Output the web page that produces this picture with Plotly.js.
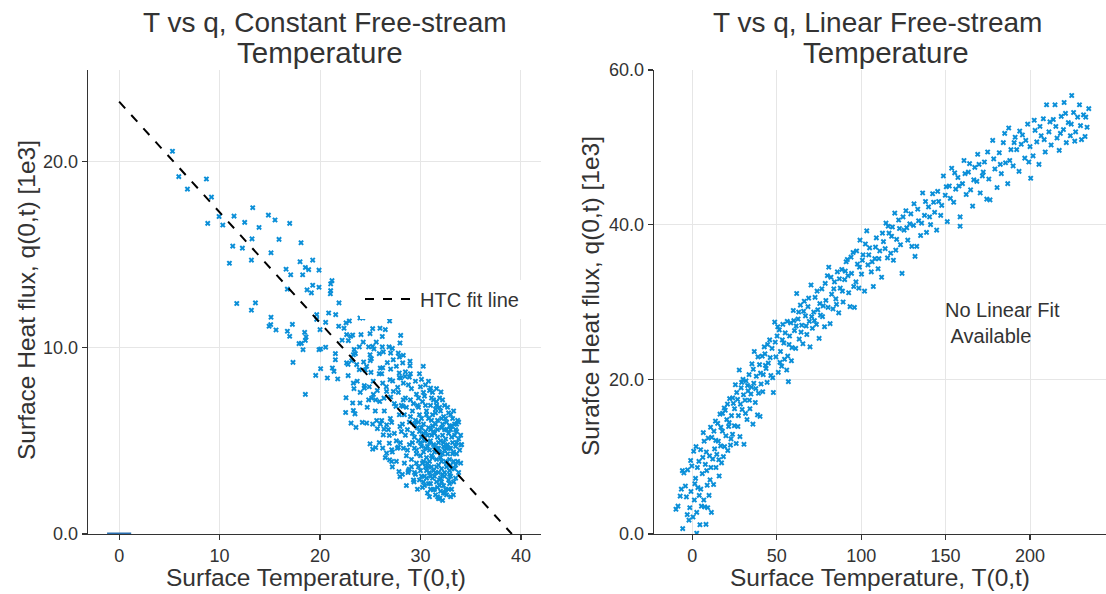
<!DOCTYPE html>
<html>
<head>
<meta charset="utf-8">
<script src="https://cdn.plot.ly/plotly-3.0.1.min.js"></script>
<style>html,body{margin:0;padding:0;background:#fff;}#chart{width:1106px;height:594px;}</style>
</head>
<body>
<div id="chart"></div>
<script>
// ---- Left panel: constant free-stream temperature ----
const constT = [5.31,5.94,8.69,6.80,9.19,8.82,9.95,10.32,11.44,13.30,12.50,13.93,14.86,15.52,16.98,11.31,12.27,13.23,15.92,15.12,10.98,13.17,18.11,18.01,19.27,16.62,17.08,18.27,18.54,18.87,19.90,21.19,21.06,21.06,21.03,19.90,19.27,18.71,19.14,16.75,11.71,13.57,13.17,21.89,19.67,20.86,21.56,19.67,15.12,15.09,14.93,15.62,17.25,16.75,16.98,18.47,18.61,18.54,17.91,18.14,18.31,20.0,20.56,20.06,20.56,19.90,17.31,19.57,20.06,20.73,21.39,21.23,21.76,18.54,21.53,21.53,21.86,22.39,22.59,22.92,23.98,24.25,22.65,23.05,23.25,24.08,22.82,24.98,25.24,25.97,26.50,26.93,28.03,27.96,24.84,23.91,25.24,25.37,26.20,26.87,27.20,23.52,23.32,23.15,22.65,22.79,23.65,24.34,24.98,25.11,25.90,26.30,27.03,27.79,28.29,28.23,28.96,28.96,30.28,27.29,26.24,27.03,27.89,28.03,28.46,28.89,25.07,25.90,26.14,23.91,24.64,23.32,23.38,24.41,24.41,26.24,26.97,27.23,27.73,27.30,26.63,25.31,25.14,24.84,25.54,25.94,26.37,27.03,27.56,28.29,28.26,22.59,23.25,23.98,22.55,23.32,23.48,23.09,23.58,24.21,24.64,25.24,25.64,26.14,25.71,26.37,26.63,27.13,26.30,26.90,27.96,24.98,25.24,25.54,26.24,26.90,27.13,26.63,26.93,27.13,27.79,27.86,27.96,28.89,28.76,29.35,31.01,32.04,33.60,34.03,33.27,31.94,32.44,31.28,
29.1,29.6,30.0,30.4,30.9,31.3,29.3,29.8,30.2,30.6,31.0,31.5,31.9,32.3,29.0,29.5,29.9,30.3,30.8,31.2,31.7,32.1,32.6,33.0,33.4,28.7,29.2,29.7,30.1,30.5,31.0,31.4,31.8,32.2,32.7,33.1,33.5,33.8,28.9,29.4,29.8,30.3,30.7,31.1,31.6,32.0,32.4,32.9,33.3,33.7,29.1,29.6,30.0,30.5,30.9,31.3,31.8,32.2,32.6,33.0,33.4,29.5,29.9,30.4,30.8,31.2,31.7,32.1,32.5,32.9,31.5,32.0,30.2,31.0,31.5,32.0,32.4,32.8,31.3,31.9,32.3,32.7,33.2,31.1,31.6,32.1,32.5,32.9,33.3,31.4,31.9,32.4,32.8,30.6,30.2,30.9,30.4,30.1,30.7,31.2,31.7,32.5,33.0,33.6,33.9,33.6,33.2,32.8,32.4,31.9,31.2,30.5,29.5,28.5,28.4,28.6,28.8,29.3,30.0,30.6,31.0,32.6,33.1,33.5,33.7,34.0,28.2,28.3,29.0,28.1,27.8,28.0,28.4,29.7,30.7,31.8,32.3,31.6,30.9,30.1,29.4,29.8,30.5,31.6,32.1,32.9,33.4,32.6,31.4,30.8,29.6,29.2,31.1,32.2,33.0,31.8,30.3,
29.2,29.7,30.1,30.6,31.1,31.5,32.0,32.5,33.0,29.4,29.9,30.3,30.8,31.3,31.7,32.2,32.6,33.1,33.5,29.6,30.0,30.5,30.9,31.4,31.8,32.3,32.8,33.2,33.6,29.8,30.3,30.7,31.2,31.6,32.1,32.6,33.1,33.5,30.1,30.6,31.0,31.5,32.0,32.4,32.9,33.3,30.4,31.0,31.4,31.9,32.3,32.8,31.7,32.2,30.9,33.0,31.1,30.3,29.8,31.6,32.2,32.7,33.3,33.8,34.1,34.0,33.8,29.0,28.6,28.9,28.5,28.7,29.1,29.4,28.3,28.1,27.9,27.6,27.4,27.9,28.8,30.1,31.6,30.8,29.9,27.2,27.6,28.2,28.6,
23.7,24.5,25.3,26.0,26.6,24.0,24.9,25.7,26.4,27.0,25.5,24.7,26.0,26.8,27.4,25.9,26.5,27.2,27.7,22.8,23.4,24.3,25.6,26.7,27.6,28.5,27.9,26.2,25.0,22.2];
const constQ = [20.54,19.18,19.05,18.51,18.08,16.67,17.04,16.58,17.06,17.51,16.72,16.45,17.11,16.85,16.67,15.45,15.34,15.84,15.81,15.09,14.53,14.70,15.63,14.61,14.70,14.21,13.91,13.91,14.30,14.19,14.16,13.60,13.42,13.06,12.89,13.24,13.35,13.10,12.94,13.14,12.37,12.40,12.01,12.40,11.77,11.86,11.77,11.52,11.63,11.24,11.15,10.95,11.25,10.88,10.61,10.82,10.57,10.39,10.22,10.23,9.89,10.97,11.36,9.93,10.02,9.89,9.21,8.51,8.87,8.37,8.73,8.91,8.32,7.49,9.68,9.35,11.15,11.04,11.33,11.43,11.59,11.59,10.70,10.61,10.68,10.70,10.38,10.75,11.02,11.04,10.97,11.43,10.66,10.25,10.04,10.04,10.07,9.93,10.04,10.04,9.96,9.68,9.62,9.30,9.18,9.10,9.09,9.23,9.62,9.41,9.68,9.77,9.71,9.71,9.59,9.18,9.27,9.03,9.00,9.35,8.92,8.85,8.64,8.37,8.46,8.42,8.67,8.60,8.60,8.82,9.00,8.10,7.80,7.83,7.96,8.10,8.28,8.21,7.87,7.65,7.65,7.49,7.29,7.20,7.20,7.11,7.29,7.35,6.85,7.20,6.85,7.31,7.03,7.03,6.52,6.63,6.45,5.95,5.72,5.99,5.95,5.90,6.09,6.09,5.65,5.63,5.86,5.99,5.32,5.29,5.77,4.84,4.55,4.64,4.61,4.87,4.52,4.34,3.98,3.89,4.66,3.35,3.08,3.48,3.30,2.80,7.83,7.62,5.90,4.78,2.10,1.92,2.19,2.37,
7.8,7.5,7.9,7.4,7.7,7.2,7.0,6.8,7.1,6.6,6.9,6.5,6.8,6.3,6.3,6.1,6.4,5.9,6.2,5.8,6.1,5.7,6.0,5.6,5.9,5.6,5.4,5.7,5.2,5.5,5.0,5.4,4.9,5.3,4.8,5.2,4.7,5.1,4.8,4.6,5.0,4.4,4.7,4.2,4.6,4.1,4.5,4.0,4.4,3.9,4.0,3.8,4.2,3.6,3.9,3.4,3.7,3.2,3.6,3.1,3.5,3.2,2.9,3.1,2.7,3.0,2.5,2.8,2.4,2.7,2.1,2.3,2.5,5.6,5.9,5.0,5.6,5.4,4.8,4.4,4.9,4.3,4.9,3.6,4.0,3.5,3.9,3.4,3.9,3.1,2.9,3.3,2.9,4.1,3.8,4.5,5.0,5.7,5.3,6.4,5.2,5.1,4.6,4.3,4.5,5.5,6.2,6.5,6.9,7.3,7.6,8.0,8.2,7.3,6.4,4.2,3.4,2.9,3.4,3.0,2.4,2.1,2.4,3.0,6.1,5.3,5.9,8.1,8.6,6.9,7.6,4.9,3.8,2.4,2.2,1.9,2.6,2.8,3.3,4.7,5.9,6.0,6.9,6.9,6.2,5.8,5.3,4.6,4.4,3.6,4.3,4.9,5.3,4.3,3.7,3.3,2.8,
6.6,6.9,6.2,6.4,6.1,6.7,6.6,6.2,6.4,5.2,5.5,5.4,5.7,5.5,5.6,5.9,5.6,5.8,5.6,4.5,4.9,4.6,4.9,4.7,4.6,4.7,4.6,4.3,4.9,3.6,3.9,3.8,4.1,3.6,3.9,3.8,3.5,3.7,3.1,3.4,3.1,3.3,3.0,3.1,3.2,2.8,2.6,2.7,2.4,2.6,2.2,2.4,2.0,1.8,2.0,2.0,7.3,7.6,7.3,7.1,7.2,6.8,6.6,6.0,4.8,3.8,3.3,7.2,6.8,6.0,5.3,4.5,3.6,3.3,4.6,5.5,6.4,5.0,7.0,8.4,8.0,8.3,7.8,8.2,8.6,4.4,3.9,3.2,2.6,
8.2,8.8,8.2,8.9,7.9,7.6,7.9,7.7,6.6,6.2,6.6,6.8,5.9,5.6,5.4,4.9,4.1,3.6,4.6,8.5,9.9,10.3,10.3,9.2,9.0,8.7,9.5,10.6,9.3,10.4];
// HTC fit line end points
const fitT = [0, 39.1];
const fitQ = [23.2, 0];
// short blue segment on the baseline
const baseT = [-1.2, 1.2];
const baseQ = [0, 0];

// ---- Right panel: linear free-stream temperature ----
const linT = [-9.7,-8.5,-7.2,-5.9,-5.7,-5.0,-4.1,-3.5,-2.8,-2.0,-1.5,-0.8,-0.3,0.4,0.8,1.2,1.9,2.2,2.6,2.6,3.3,3.9,4.1,4.5,4.9,5.4,5.9,6.5,6.8,7.3,7.7,8.1,8.3,8.8,9.4,9.9,10.5,10.8,11.3,11.5,12.1,12.6,13.2,13.7,14.0,14.5,15.0,15.4,15.9,16.4,16.8,17.3,17.8,18.4,18.9,19.5,19.9,20.4,21.0,21.5,22.1,22.6,23.2,23.8,24.3,24.9,25.5,26.0,26.8,27.3,27.8,28.2,28.9,29.5,30.0,30.6,31.2,31.8,32.4,33.0,33.6,34.1,34.7,35.3,35.9,36.4,36.7,37.3,37.9,38.6,39.2,39.8,40.1,40.7,41.4,42.0,42.6,43.0,43.7,44.3,45.0,45.8,46.5,47.2,48.0,48.8,49.5,50.2,50.9,51.5,52.2,52.9,53.6,54.2,55.0,55.9,56.5,56.9,57.6,58.3,59.0,59.8,60.5,61.2,61.8,62.6,63.3,64.0,64.8,65.5,66.3,67.0,67.8,68.5,69.3,69.7,70.3,71.1,71.9,72.7,73.5,74.3,75.1,75.9,76.7,77.5,78.3,79.1,80.0,80.8,81.6,82.5,83.3,84.2,85.0,85.9,86.7,87.6,88.5,89.3,90.2,91.1,91.8,92.6,93.4,94.3,95.2,96.0,96.9,97.8,98.6,99.3,100.2,101.1,102.0,103.3,104.0,105.0,106.0,107.2,108.1,109.0,110.0,111.0,112.1,113.2,114.7,115.6,116.5,117.5,118.5,119.1,119.9,121.0,122.2,123.3,124.2,125.4,126.5,127.6,128.8,130.0,131.3,131.9,132.9,134.0,135.2,136.4,137.5,138.7,139.9,141.1,142.3,143.5,144.7,145.9,147.1,148.7,149.8,151.0,152.2,153.6,154.8,156.0,157.3,158.6,158.6,160.0,160.9,162.2,163.5,164.8,166.0,167.3,168.5,169.0,170.5,171.8,173.0,174.4,175.6,176.3,177.9,179.2,180.5,181.8,183.0,184.2,185.5,186.8,187.4,188.7,190.0,191.2,192.1,193.5,194.8,195.5,196.9,198.6,200.0,200.4,201.8,203.0,204.0,205.3,206.6,207.9,209.0,209.8,211.2,212.5,213.8,214.8,216.0,217.3,218.5,219.8,220.2,221.5,222.7,223.9,224.7,225.8,227.0,228.2,229.3,230.5,231.7,232.6,233.8,234.8,
-6.5,-3.0,-1.0,1.5,3.0,5.0,6.2,7.0,8.5,9.1,10.2,11.0,12.8,13.9,15.7,16.9,17.9,19.1,20.8,21.8,22.9,23.9,25.0,26.3,27.0,28.5,29.2,30.3,31.5,32.7,33.8,35.0,36.1,37.6,38.9,40.4,41.7,43.3,44.6,46.1,47.6,49.1,50.6,51.9,53.3,54.6,56.2,57.3,58.7,60.1,61.5,63.0,64.4,65.9,67.4,68.9,70.7,72.3,73.9,75.5,77.1,78.7,80.4,82.1,83.8,85.4,87.1,88.9,90.6,92.2,94.0,95.6,97.3,99.0,100.7,102.5,104.5,106.5,108.5,110.5,112.6,114.2,116.0,118.0,120.5,122.7,124.8,127.0,129.4,131.0,133.5,135.8,138.1,140.5,142.9,145.3,147.7,150.4,152.8,155.4,157.9,161.5,164.2,166.7,169.8,172.3,174.9,178.5,182.4,185.0,188.0,190.6,193.9,197.5,199.3,202.5,205.9,208.4,211.8,215.3,218.0,221.0,224.4,226.5,229.9,233.0];
const linQ = [3.2,3.6,4.9,8.2,0.7,7.9,6.2,4.8,8.3,1.8,3.4,5.5,8.8,2.2,10.7,4.4,7.2,11.3,0.1,2.8,6.0,9.4,5.0,1.2,10.9,3.6,7.8,13.1,4.4,3.5,9.0,1.25,10.6,6.3,12.4,5.0,7.0,13.8,2.8,12.5,9.7,6.4,11.0,14.6,8.6,10.3,14.3,12.0,7.5,15.5,11.4,9.2,13.3,10.0,16.3,16.0,12.7,14.8,10.8,13.9,17.5,11.5,15.3,12.9,16.9,14.0,19.3,11.7,17.4,15.3,21.2,12.6,18.9,16.1,20.0,11.6,17.3,19.8,14.8,18.5,20.6,16.2,18.1,22.0,14.2,19.5,23.6,17.0,20.4,15.4,18.2,21.9,15.2,19.4,23.0,20.6,24.2,23.3,21.4,19.6,22.1,25.1,20.5,24.0,18.3,27.4,22.9,25.6,20.9,26.4,23.6,21.7,27.1,24.7,26.0,21.2,23.0,19.7,25.6,27.3,24.1,28.9,26.3,24.0,31.1,27.8,25.2,29.6,27.0,24.6,30.1,28.2,25.8,29.4,27.5,24.2,32.2,26.6,28.7,30.6,27.1,29.0,25.3,28.3,31.7,29.5,26.8,30.2,33.4,34.5,27.2,31.0,29.1,32.6,30.4,33.9,28.6,31.8,34.2,30.0,32.9,35.2,35.5,31.2,29.4,33.7,36.4,29.3,32.6,34.9,31.8,38.0,33.6,36.1,31.4,39.2,34.8,37.0,33.9,32.0,35.6,38.3,34.3,36.6,33.2,37.8,40.2,35.7,38.9,36.3,39.7,35.4,41.5,38.1,40.6,37.4,33.7,39.3,41.8,38.0,40.1,37.2,42.7,35.9,37.2,40.5,38.6,44.1,41.2,39.0,42.3,40.0,44.0,41.6,39.3,43.0,41.2,46.3,43.8,40.4,45.0,47.3,42.9,44.6,46.1,39.8,41.0,45.3,48.3,43.9,46.8,44.5,42.4,47.4,45.6,49.1,44.1,46.3,48.1,43.3,45.9,43.2,50.9,47.2,44.8,49.3,46.6,50.6,48.0,45.3,52.5,49.7,47.6,51.3,49.7,46.9,50.4,51.6,48.6,53.0,50.1,46.0,48.9,52.2,50.7,47.8,51.5,53.7,49.4,55.5,52.0,50.3,53.6,55.5,51.2,49.6,54.0,52.3,55.8,50.6,53.2,51.5,56.7,54.5,52.0,53.9,55.5,51.0,54.2,51.4,52.6,55.0,
5.8,2.5,9.5,6.5,8.6,5.8,9.9,12.0,8.2,3.4,10.1,8.6,13.3,12.1,9.6,13.8,15.6,11.3,16.8,14.4,12.3,17.6,16.2,18.3,13.9,16.8,19.6,18.0,15.6,19.2,17.3,19.0,21.3,18.8,22.9,20.8,18.4,21.8,24.5,22.8,20.2,24.8,26.8,22.2,25.1,22.6,27.5,24.5,22.4,27.6,26.9,28.7,26.1,28.8,26.9,30.5,28.1,27.6,31.4,29.8,28.1,32.4,29.3,33.2,31.7,29.7,33.0,31.4,34.0,33.4,35.8,32.0,36.6,34.5,35.4,37.5,36.1,35.2,37.1,35.6,38.9,36.9,39.8,38.5,36.7,39.5,41.0,39.6,41.4,39.9,42.0,40.2,43.0,41.0,42.9,44.3,42.5,44.9,43.4,46.7,45.0,46.6,47.9,45.8,47.8,46.8,49.4,48.5,47.8,51.8,48.3,50.6,52.1,50.9,48.1,53.5,52.7,51.0,53.3,52.7,51.8,54.4,53.0,50.8,52.8,53.9];

// tick values
const leftXTicks = [0, 10, 20, 30, 40];
const leftYTicks = [0, 10, 20];
const rightXTicks = [0, 50, 100, 150, 200];
const rightYTicks = [0, 20, 40, 60];

const W = 1106, H = 594;
const px = v => v / W;
const py = v => (H - v) / H;

const markerColor = '#0b8fd8';
const textColor = '#333333';
const FONT = 'Liberation Sans, Arial, sans-serif';

const traces = [
  {x: constT, y: constQ, xaxis: 'x', yaxis: 'y', mode: 'markers', type: 'scatter', showlegend: false,
   marker: {symbol: 'x', size: 5, color: markerColor}},
  {x: fitT, y: fitQ, xaxis: 'x', yaxis: 'y', mode: 'lines', type: 'scatter', name: 'HTC fit line', showlegend: true,
   line: {color: '#000000', width: 2, dash: 'dash'}},
  {x: baseT, y: baseQ, xaxis: 'x', yaxis: 'y', mode: 'lines', type: 'scatter', showlegend: false,
   line: {color: '#2a6fb0', width: 3}},
  {x: linT, y: linQ, xaxis: 'x2', yaxis: 'y2', mode: 'markers', type: 'scatter', showlegend: false,
   marker: {symbol: 'x', size: 5, color: markerColor}}
];

const axisCommon = {
  showline: true, linecolor: '#333333', linewidth: 1.3, mirror: false,
  ticks: 'outside', ticklen: 5, tickwidth: 1.2, tickcolor: '#333333',
  showgrid: true, gridcolor: '#e6e6e6', gridwidth: 1, zeroline: false,
  tickfont: {size: 18, color: textColor, family: FONT}, automargin: false
};

const layout = {
  width: W, height: H,
  margin: {l: 0, r: 0, t: 0, b: 0},
  paper_bgcolor: '#ffffff', plot_bgcolor: '#ffffff',
  font: {family: FONT, color: textColor},
  xaxis: Object.assign({}, axisCommon, {domain: [px(88), px(541)], range: [-3.1, 42], tickvals: leftXTicks, anchor: 'y'}),
  yaxis: Object.assign({}, axisCommon, {domain: [py(534), py(70)], range: [0, 24.9], tickvals: leftYTicks, tickformat: '.1f', anchor: 'x'}),
  xaxis2: Object.assign({}, axisCommon, {domain: [px(654), 1], range: [-22.7, 245], tickvals: rightXTicks, anchor: 'y2'}),
  yaxis2: Object.assign({}, axisCommon, {domain: [py(534), py(70)], range: [0, 60], tickvals: rightYTicks, tickformat: '.1f', anchor: 'x2'}),
  showlegend: true,
  legend: {x: px(360), y: py(299), xanchor: 'left', yanchor: 'middle', bgcolor: 'rgba(255,255,255,1)', borderwidth: 0,
           font: {size: 20, color: textColor, family: FONT}, itemwidth: 50},
  annotations: [
    {text: 'T vs q, Constant Free-stream', xref: 'paper', yref: 'paper', x: px(325), y: py(22), xanchor: 'center', yanchor: 'middle',
     showarrow: false, font: {size: 28, color: textColor, family: FONT}},
    {text: 'Temperature', xref: 'paper', yref: 'paper', x: px(320), y: py(52), xanchor: 'center', yanchor: 'middle',
     showarrow: false, font: {size: 29.5, color: textColor, family: FONT}},
    {text: 'T vs q, Linear Free-stream', xref: 'paper', yref: 'paper', x: px(878), y: py(22), xanchor: 'center', yanchor: 'middle',
     showarrow: false, font: {size: 28, color: textColor, family: FONT}},
    {text: 'Temperature', xref: 'paper', yref: 'paper', x: px(886), y: py(52), xanchor: 'center', yanchor: 'middle',
     showarrow: false, font: {size: 29.5, color: textColor, family: FONT}},
    {text: 'Surface Temperature, T(0,t)', xref: 'paper', yref: 'paper', x: px(316), y: py(577), xanchor: 'center', yanchor: 'middle',
     showarrow: false, font: {size: 24.5, color: textColor, family: FONT}},
    {text: 'Surface Temperature, T(0,t)', xref: 'paper', yref: 'paper', x: px(880), y: py(577), xanchor: 'center', yanchor: 'middle',
     showarrow: false, font: {size: 24.5, color: textColor, family: FONT}},
    {text: 'Surface Heat flux, q(0,t) [1e3]', xref: 'paper', yref: 'paper', x: px(27), y: py(300), xanchor: 'center', yanchor: 'middle', textangle: -90,
     showarrow: false, font: {size: 24.5, color: textColor, family: FONT}},
    {text: 'Surafce Heat flux, q(0,t) [1e3]', xref: 'paper', yref: 'paper', x: px(590), y: py(296), xanchor: 'center', yanchor: 'middle', textangle: -90,
     showarrow: false, font: {size: 24.5, color: textColor, family: FONT}},
    {text: 'No Linear Fit<br>\u00a0Available', xref: 'paper', yref: 'paper', x: px(943), y: py(323), xanchor: 'left', yanchor: 'middle', align: 'left',
     showarrow: false, font: {size: 20, color: textColor, family: FONT}}
  ]
};

Plotly.newPlot('chart', traces, layout, {staticPlot: true, displayModeBar: false});
</script>
</body>
</html>
